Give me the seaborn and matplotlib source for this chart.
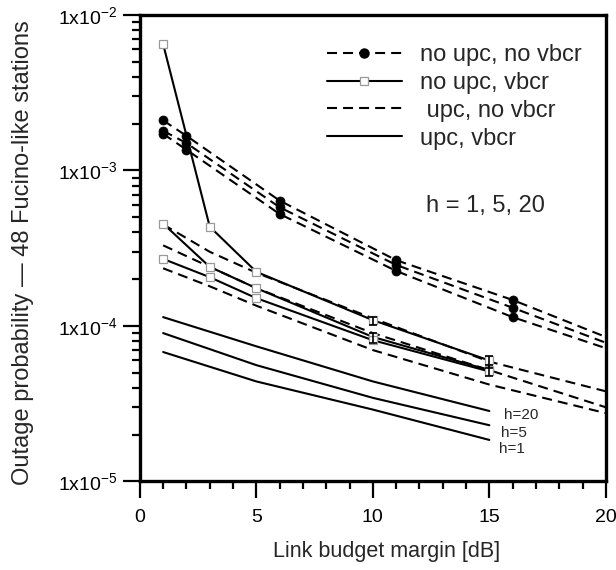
import matplotlib
matplotlib.use("Agg")
import matplotlib.pyplot as plt
from matplotlib.lines import Line2D
from matplotlib.ticker import MultipleLocator, FixedLocator, LogLocator, NullFormatter
import seaborn as sns
import pandas as pd

# ---------------- data ----------------
x_a = [1, 2, 6, 11, 16, 20]                       # no upc, no vbcr
a_h20 = [2.1e-3, 1.67e-3, 6.4e-4, 2.65e-4, 1.47e-4, 8.5e-5]
a_h5 = [1.8e-3, 1.5e-3, 5.8e-4, 2.47e-4, 1.31e-4, 7.8e-5]
a_h1 = [1.72e-3, 1.36e-3, 5.25e-4, 2.26e-4, 1.14e-4, 7.2e-5]

x_b = [1, 3, 5, 10, 15]                           # no upc, vbcr
b_h20 = [6.5e-3, 4.35e-4, 2.23e-4, 1.09e-4, 6.0e-5]
b_h5 = [4.55e-4, 2.4e-4, 1.75e-4, 8.5e-5, 5.2e-5]
b_h1 = [2.7e-4, 2.06e-4, 1.51e-4, 8.1e-5, 5.1e-5]

x_c = [1, 3, 5, 10, 15, 20]                       # upc, no vbcr
c_h20 = [4.5e-4, 3.0e-4, 2.2e-4, 1.12e-4, 5.9e-5, 3.8e-5]
c_h5 = [3.3e-4, 2.4e-4, 1.75e-4, 9.0e-5, 5.2e-5, 3.0e-5]
c_h1 = [2.35e-4, 1.8e-4, 1.35e-4, 7.0e-5, 4.2e-5, 2.75e-5]

x_d = [1, 5, 10, 15]                              # upc, vbcr
d_h20 = [1.14e-4, 7.4e-5, 4.4e-5, 2.84e-5]
d_h5 = [9.0e-5, 5.6e-5, 3.45e-5, 2.3e-5]
d_h1 = [6.8e-5, 4.4e-5, 2.9e-5, 1.85e-5]

err_x = [10, 10, 15, 15]
err_y = [1.08e-4, 8.4e-5, 6.0e-5, 5.2e-5]
err_lo = [1.02e-4, 7.8e-5, 5.4e-5, 4.8e-5]
err_hi = [1.14e-4, 9.0e-5, 6.4e-5, 5.6e-5]

legend_labels = ["no upc, no vbcr", "no upc, vbcr", " upc, no vbcr", "upc, vbcr"]
h_labels = ["h=20", "h=5", "h=1"]
h_label_x = [15.65, 15.5, 15.4]
h_label_y = [2.68e-5, 2.05e-5, 1.62e-5]
yticks = [1e-5, 1e-4, 1e-3, 1e-2]
ytick_labels = ["1x10$^{-5}$", "1x10$^{-4}$", "1x10$^{-3}$", "1x10$^{-2}$"]
xticks = [0, 5, 10, 15, 20]

# ---------------- style ----------------
sns.set_style("ticks")
plt.rcParams["font.family"] = ["Liberation Sans", "DejaVu Sans"]
plt.rcParams["mathtext.default"] = "regular"

fig = plt.figure(figsize=(6.16, 5.70), dpi=100)
ax = fig.add_axes([0.227, 0.1553, 0.7565, 0.8184])

LW = 1.5
DASH = (0, (4.8, 2.9))

def draw(x, y, **kw):
    df = pd.DataFrame({"x": x, "y": y})
    sns.lineplot(data=df, x="x", y="y", ax=ax, color="black", lw=LW,
                 estimator=None, sort=False, legend=False, **kw)

for y in (a_h20, a_h5, a_h1):
    draw(x_a, y, linestyle=DASH, marker="o", markersize=6.5,
         markerfacecolor="black", markeredgecolor="black", markeredgewidth=0.5,
         markevery=[0, 1, 2, 3, 4])
for y in (c_h20, c_h5, c_h1):
    draw(x_c, y, linestyle=DASH)
for y in (d_h20, d_h5, d_h1):
    draw(x_d, y, linestyle="-")
for y in (b_h20, b_h5, b_h1):
    draw(x_b, y, linestyle="-", marker="s", markersize=5.5,
         markerfacecolor="white", markeredgecolor="#999999", markeredgewidth=0.9)

yerr = [[v - lo for v, lo in zip(err_y, err_lo)], [hi - v for v, hi in zip(err_y, err_hi)]]
ax.errorbar(err_x, err_y, yerr=yerr, fmt="none", ecolor="black", elinewidth=1.2,
            capsize=3, capthick=1.2, zorder=5)

# ---------------- axes ----------------
ax.set_yscale("log")
ax.set_xlim(0, 20)
ax.set_ylim(1e-5, 1e-2)
ax.yaxis.set_major_locator(FixedLocator(yticks))
ax.set_yticklabels(ytick_labels)
ax.yaxis.set_minor_locator(LogLocator(base=10, subs=range(2, 10)))
ax.yaxis.set_minor_formatter(NullFormatter())
ax.set_xticks(xticks)
ax.xaxis.set_minor_locator(MultipleLocator(1))

for s in ax.spines.values():
    s.set_linewidth(2.4)
    s.set_color("black")
ax.tick_params(which="major", direction="out", length=12, width=1.6, labelsize=14,
               colors="black", pad=4)
ax.tick_params(which="minor", direction="out", length=6, width=1.6, colors="black")
ax.tick_params(axis="x", which="major", pad=8)
ax.tick_params(top=False, right=False, which="both")

ax.set_xlabel("Link budget margin [dB]", fontsize=15.5)
ax.set_ylabel("Outage probability \u2014 48 Fucino-like stations", fontsize=17)
ax.xaxis.set_label_coords(0.53, -0.128)
ax.yaxis.set_label_coords(-0.228, 0.49)

# ---------------- legend & annotations ----------------
handles = [
    Line2D([], [], color="black", lw=LW, linestyle=DASH, marker="o", markersize=6.5,
           markerfacecolor="black", markeredgecolor="black"),
    Line2D([], [], color="black", lw=LW, linestyle="-", marker="s", markersize=5.5,
           markerfacecolor="white", markeredgecolor="#999999", markeredgewidth=0.9),
    Line2D([], [], color="black", lw=LW, linestyle=DASH),
    Line2D([], [], color="black", lw=LW, linestyle="-"),
]
ax.legend(handles, legend_labels, loc="upper left", bbox_to_anchor=(0.401, 0.938),
          frameon=False, fontsize=17, numpoints=1, handlelength=3.2,
          handletextpad=0.75, labelspacing=0.25, borderpad=0, borderaxespad=0)

ax.text(12.3, 5.9e-4, "h = 1, 5, 20", fontsize=17, ha="left", va="center")
for lab, lx, ly in zip(h_labels, h_label_x, h_label_y):
    ax.text(lx, ly, lab, fontsize=11, ha="left", va="center")

fig.savefig("out.png", dpi=100)
